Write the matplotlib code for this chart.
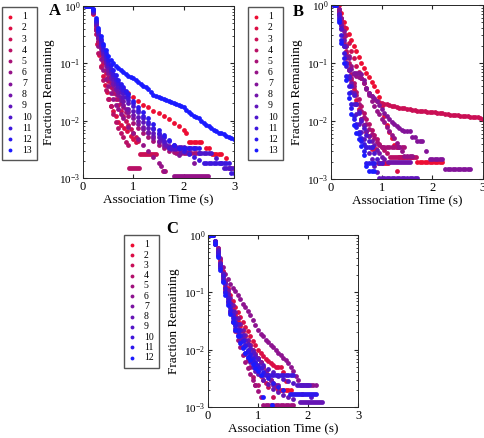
import matplotlib
matplotlib.use('Agg')
import matplotlib.pyplot as plt
import numpy as np

plt.rcParams['font.family'] = ['Liberation Serif', 'DejaVu Serif']
plt.rcParams['mathtext.fontset'] = 'custom'
plt.rcParams['mathtext.rm'] = 'Liberation Serif'
plt.rcParams['mathtext.it'] = 'Liberation Serif:italic'

# ---- Panel A: (time s, fraction remaining) per trace ----
A01 = [(0.05, 1), (0.1, 1), (0.15, 1), (0.2, 0.78), (0.25, 0.45), (0.3, 0.28), (0.35, 0.19), (0.4, 0.13),
       (0.45, 0.1), (0.5, 0.08), (0.55, 0.066), (0.6, 0.056), (0.7, 0.044), (0.8, 0.036), (0.9, 0.03),
       (1.0, 0.026), (1.1, 0.022), (1.2, 0.019), (1.3, 0.017), (1.4, 0.015), (1.5, 0.0135), (1.6, 0.012),
       (1.7, 0.0105), (1.8, 0.0092), (1.9, 0.008), (2.0, 0.0068), (2.05, 0.006), (2.1, 0.0042), (2.15, 0.0042),
       (2.2, 0.0042), (2.25, 0.0042), (2.3, 0.0042), (2.35, 0.0042), (2.45, 0.0034), (2.5, 0.0034),
       (2.56, 0.0026), (2.6, 0.0026), (2.65, 0.0026), (2.7, 0.0026), (2.75, 0.0026), (2.85, 0.0022),
       (2.9, 0.0015), (2.95, 0.0015), (3.0, 0.0015)]
A02 = [(0.05, 1), (0.1, 1), (0.15, 1), (0.2, 0.72), (0.25, 0.38), (0.28, 0.22), (0.32, 0.14), (0.36, 0.09),
       (0.4, 0.06), (0.44, 0.042), (0.48, 0.031), (0.52, 0.024), (0.56, 0.018), (0.6, 0.015), (0.65, 0.012),
       (0.7, 0.0095), (0.76, 0.0085), (0.82, 0.0075), (0.88, 0.0065), (0.95, 0.0055), (1.0, 0.0048), (1.05, 0.0042)]
A03 = [(0.05, 1), (0.1, 1), (0.2, 0.8), (0.25, 0.4), (0.3, 0.24), (0.35, 0.15), (0.4, 0.1), (0.45, 0.068),
       (0.5, 0.05), (0.55, 0.038), (0.6, 0.03), (0.65, 0.024), (0.7, 0.019), (0.75, 0.015), (0.8, 0.012),
       (0.85, 0.01), (0.9, 0.0085), (0.95, 0.0072), (1.0, 0.0062), (1.05, 0.0052), (1.1, 0.0044),
       (1.14, 0.0026), (1.18, 0.0026), (1.22, 0.0026), (1.26, 0.0026), (1.3, 0.0026), (1.34, 0.0026),
       (1.38, 0.0026), (1.42, 0.0026), (1.46, 0.0026)]
A04 = [(0.05, 1), (0.1, 1), (0.2, 0.75), (0.25, 0.33), (0.3, 0.15), (0.35, 0.085), (0.4, 0.052), (0.45, 0.034),
       (0.5, 0.024), (0.55, 0.018), (0.6, 0.013), (0.65, 0.0095), (0.7, 0.0075), (0.75, 0.0062), (0.8, 0.0052),
       (0.85, 0.0042), (0.9, 0.0038), (0.92, 0.0015), (0.96, 0.0015), (1.0, 0.0015), (1.04, 0.0015),
       (1.08, 0.0015), (1.12, 0.0015), (1.58, 0.0013), (1.62, 0.0013)]
A05 = [(0.05, 1), (0.1, 1), (0.2, 0.82), (0.25, 0.42), (0.3, 0.25), (0.35, 0.16), (0.4, 0.11), (0.45, 0.078),
       (0.5, 0.058), (0.55, 0.045), (0.6, 0.036), (0.65, 0.029), (0.7, 0.024), (0.75, 0.02), (0.8, 0.017),
       (0.85, 0.014), (0.9, 0.012), (1.0, 0.0092), (1.1, 0.0075), (1.2, 0.0062), (1.3, 0.0052), (1.4, 0.0044),
       (1.5, 0.0038), (1.6, 0.0034), (1.7, 0.003), (1.8, 0.0028), (1.85, 0.0027), (1.9, 0.0027), (1.95, 0.0027),
       (2.0, 0.0027), (2.05, 0.0027), (2.1, 0.0027), (2.15, 0.0027), (2.2, 0.0027), (2.25, 0.0027), (2.3, 0.0027)]
A06 = [(0.05, 1), (0.1, 1), (0.2, 0.78), (0.25, 0.38), (0.3, 0.2), (0.35, 0.12), (0.4, 0.078), (0.45, 0.054),
       (0.5, 0.04), (0.55, 0.03), (0.6, 0.024), (0.65, 0.019), (0.7, 0.016), (0.75, 0.013), (0.8, 0.011),
       (0.9, 0.0078), (1.0, 0.006), (1.1, 0.0047), (1.2, 0.0038), (1.3, 0.003), (1.4, 0.0023), (1.5, 0.0018),
       (1.55, 0.0016), (1.6, 0.0013), (1.8, 0.0011), (1.84, 0.0011), (1.88, 0.0011), (1.92, 0.0011),
       (1.96, 0.0011), (2.0, 0.0011), (2.04, 0.0011), (2.08, 0.0011), (2.12, 0.0011), (2.16, 0.0011),
       (2.2, 0.0011), (2.24, 0.0011), (2.28, 0.0011), (2.32, 0.0011), (2.36, 0.0011), (2.4, 0.0011),
       (2.44, 0.0011), (2.48, 0.0011)]
A07 = [(0.05, 1), (0.1, 1), (0.2, 0.85), (0.25, 0.48), (0.3, 0.28), (0.35, 0.18), (0.4, 0.125), (0.45, 0.09),
       (0.5, 0.068), (0.55, 0.053), (0.6, 0.042), (0.65, 0.034), (0.7, 0.028), (0.75, 0.023), (0.8, 0.019),
       (0.85, 0.016), (0.9, 0.014), (1.0, 0.011), (1.1, 0.0088), (1.2, 0.0072), (1.3, 0.006), (1.4, 0.005),
       (1.5, 0.0042), (1.6, 0.0036), (1.65, 0.0036), (1.7, 0.0036), (1.9, 0.0025), (2.2, 0.0018)]
A08 = [(0.05, 1), (0.1, 1), (0.2, 0.8), (0.25, 0.46), (0.3, 0.29), (0.35, 0.2), (0.4, 0.14), (0.45, 0.1),
       (0.5, 0.075), (0.55, 0.058), (0.6, 0.046), (0.65, 0.037), (0.7, 0.031), (0.75, 0.026), (0.8, 0.022),
       (0.9, 0.016), (1.0, 0.0125), (1.1, 0.0098), (1.2, 0.0078), (1.3, 0.0064), (1.4, 0.0053), (1.5, 0.0045),
       (1.6, 0.0039), (1.7, 0.0034), (1.75, 0.0032), (1.8, 0.0032), (1.85, 0.0032), (1.9, 0.0032),
       (1.95, 0.0028), (2.0, 0.0028), (2.05, 0.0028), (2.1, 0.0028)]
A09 = [(0.05, 1), (0.1, 1), (0.15, 1), (0.2, 0.8), (0.25, 0.5), (0.3, 0.32), (0.35, 0.21), (0.4, 0.15),
       (0.45, 0.11), (0.5, 0.085), (0.55, 0.067), (0.6, 0.054), (0.65, 0.044), (0.7, 0.037), (0.75, 0.031),
       (0.8, 0.026), (0.9, 0.02), (1.0, 0.015), (1.1, 0.0118), (1.2, 0.0094), (1.3, 0.0076), (1.4, 0.0062),
       (1.5, 0.0052), (1.55, 0.0047), (1.6, 0.0042), (1.65, 0.0038), (1.7, 0.0035), (1.75, 0.0035),
       (1.8, 0.0035), (1.85, 0.0035), (1.9, 0.0035), (1.95, 0.0035), (2.0, 0.0035)]
A10 = [(0.05, 1), (0.1, 1), (0.2, 0.85), (0.25, 0.52), (0.3, 0.34), (0.35, 0.23), (0.4, 0.165), (0.45, 0.12),
       (0.5, 0.092), (0.55, 0.073), (0.6, 0.059), (0.65, 0.049), (0.7, 0.041), (0.75, 0.035), (0.8, 0.03),
       (0.85, 0.026), (0.9, 0.023), (1.0, 0.018), (1.1, 0.014), (1.2, 0.011), (1.3, 0.0088), (1.4, 0.0071),
       (1.5, 0.0058), (1.55, 0.0051), (1.6, 0.0044), (1.7, 0.0034), (1.75, 0.0034), (1.8, 0.0034),
       (1.85, 0.0034), (1.9, 0.0034), (1.95, 0.0034), (2.0, 0.0034), (2.05, 0.0034), (2.1, 0.0034),
       (2.15, 0.0034), (2.2, 0.0034), (2.25, 0.0034), (2.3, 0.0027), (2.35, 0.0027), (2.4, 0.0027),
       (2.45, 0.0027), (2.5, 0.0027), (2.55, 0.0027), (2.65, 0.0022), (2.75, 0.0018), (2.8, 0.0015),
       (2.85, 0.0015), (2.9, 0.0015), (2.95, 0.0015), (3.0, 0.0015)]
A11 = [(0.05, 1), (0.1, 1), (0.15, 1), (0.2, 0.88), (0.25, 0.55), (0.3, 0.36), (0.35, 0.25), (0.4, 0.18),
       (0.45, 0.135), (0.5, 0.1), (0.55, 0.08), (0.6, 0.065), (0.65, 0.054), (0.7, 0.045), (0.75, 0.039),
       (0.8, 0.034), (0.85, 0.03), (0.9, 0.026), (1.0, 0.02), (1.1, 0.0155), (1.2, 0.012), (1.3, 0.0095),
       (1.4, 0.0076), (1.5, 0.0062), (1.6, 0.0052), (1.7, 0.0044), (1.8, 0.0038), (1.9, 0.0033),
       (2.0, 0.0029), (2.1, 0.0026), (2.2, 0.0023), (2.3, 0.0021), (2.4, 0.0018), (2.45, 0.0018),
       (2.5, 0.0018), (2.55, 0.0018), (2.6, 0.0018), (2.65, 0.0018), (2.7, 0.0018), (2.75, 0.0018),
       (2.8, 0.0018), (2.85, 0.0018), (2.9, 0.0018), (2.95, 0.0012), (3.0, 0.0012)]
A12 = [(0.05, 1), (0.1, 1), (0.15, 1), (0.2, 0.85), (0.25, 0.58), (0.3, 0.38), (0.35, 0.27), (0.4, 0.2),
       (0.45, 0.15), (0.5, 0.115), (0.55, 0.092), (0.6, 0.075), (0.65, 0.062), (0.7, 0.052), (0.75, 0.044),
       (0.8, 0.038), (0.85, 0.033), (0.9, 0.029), (1.0, 0.022), (1.1, 0.0175), (1.2, 0.014), (1.3, 0.011),
       (1.4, 0.0088), (1.5, 0.007), (1.6, 0.0056), (1.7, 0.0046), (1.8, 0.0038), (1.9, 0.0034),
       (2.0, 0.0034), (2.1, 0.0034), (2.2, 0.0034), (2.3, 0.0034)]
A13 = [(0.05, 1), (0.1, 1), (0.15, 1), (0.2, 0.9), (0.25, 0.62), (0.3, 0.42), (0.35, 0.3), (0.4, 0.22),
       (0.45, 0.17), (0.5, 0.135), (0.55, 0.115), (0.6, 0.1), (0.65, 0.09), (0.7, 0.082), (0.75, 0.075),
       (0.8, 0.07), (0.85, 0.065), (0.9, 0.061), (0.95, 0.058), (1.0, 0.055), (1.05, 0.051), (1.1, 0.047),
       (1.15, 0.044), (1.2, 0.041), (1.25, 0.038), (1.3, 0.035), (1.35, 0.031), (1.4, 0.028), (1.45, 0.027),
       (1.5, 0.026), (1.55, 0.025), (1.6, 0.024), (1.65, 0.023), (1.7, 0.022), (1.75, 0.021), (1.8, 0.02),
       (1.85, 0.0195), (1.9, 0.019), (1.95, 0.018), (2.0, 0.017), (2.05, 0.0155), (2.1, 0.014), (2.15, 0.013),
       (2.2, 0.012), (2.25, 0.0115), (2.3, 0.011), (2.35, 0.0098), (2.4, 0.009), (2.45, 0.0085), (2.5, 0.008),
       (2.55, 0.0075), (2.6, 0.007), (2.65, 0.0066), (2.7, 0.0062), (2.75, 0.006), (2.8, 0.0058),
       (2.85, 0.0055), (2.9, 0.0052), (2.95, 0.005), (3.0, 0.0047)]

# ---- Panel B ----
B01 = [(0.05, 1), (0.1, 1), (0.15, 1), (0.2, 0.72), (0.25, 0.5), (0.3, 0.4), (0.35, 0.32), (0.4, 0.25),
       (0.45, 0.2), (0.5, 0.16), (0.55, 0.125), (0.6, 0.1), (0.65, 0.083), (0.7, 0.068), (0.75, 0.057),
       (0.8, 0.047), (0.85, 0.04), (0.9, 0.033), (0.95, 0.026), (1.0, 0.018), (1.05, 0.012), (1.1, 0.0085),
       (1.15, 0.0065), (1.2, 0.005), (1.25, 0.0038), (1.3, 0.0035), (1.35, 0.0024), (1.4, 0.0024),
       (1.45, 0.0024), (1.5, 0.0024), (1.55, 0.0024), (1.6, 0.0024), (1.7, 0.002), (1.75, 0.002),
       (1.8, 0.002), (1.85, 0.002), (1.9, 0.002), (1.95, 0.002), (2.0, 0.002), (2.05, 0.002), (2.1, 0.002),
       (2.15, 0.002), (2.2, 0.002)]
B02 = [(0.05, 1), (0.1, 1), (0.15, 0.8), (0.2, 0.55), (0.25, 0.3), (0.3, 0.15), (0.35, 0.08), (0.4, 0.05),
       (0.45, 0.035), (0.5, 0.023), (0.55, 0.016), (0.6, 0.011), (0.65, 0.0085), (0.7, 0.0065), (0.75, 0.0055),
       (0.8, 0.0033), (0.84, 0.0033), (0.88, 0.0033), (0.92, 0.0019), (0.96, 0.0019), (1.0, 0.0019),
       (1.04, 0.0019), (1.08, 0.0019), (1.12, 0.0019), (1.3, 0.0014)]
B03 = [(0.05, 1), (0.1, 1), (0.15, 0.85), (0.2, 0.6), (0.25, 0.42), (0.3, 0.3), (0.35, 0.22), (0.4, 0.16),
       (0.45, 0.12), (0.5, 0.09), (0.55, 0.07), (0.6, 0.055), (0.65, 0.045), (0.7, 0.037), (0.75, 0.031),
       (0.8, 0.027), (0.85, 0.024), (0.9, 0.022), (0.95, 0.021), (1.0, 0.0205), (1.05, 0.02), (1.1, 0.0195),
       (1.15, 0.019), (1.2, 0.0185), (1.25, 0.018), (1.3, 0.0175), (1.35, 0.017), (1.4, 0.0167),
       (1.45, 0.0165), (1.5, 0.016), (1.55, 0.0158), (1.6, 0.0155), (1.65, 0.0152), (1.7, 0.015),
       (1.75, 0.0148), (1.8, 0.0147), (1.85, 0.0146), (1.9, 0.0145), (1.95, 0.0143), (2.0, 0.0142),
       (2.05, 0.0141), (2.1, 0.014), (2.15, 0.0137), (2.2, 0.0135), (2.25, 0.0132), (2.3, 0.013),
       (2.35, 0.0129), (2.4, 0.0128), (2.45, 0.0126), (2.5, 0.0125), (2.55, 0.0124), (2.6, 0.0123),
       (2.65, 0.0122), (2.7, 0.012), (2.75, 0.0119), (2.8, 0.0118), (2.85, 0.0117), (2.9, 0.0115),
       (2.95, 0.0113), (3.0, 0.011)]
B04 = [(0.05, 1), (0.1, 1), (0.15, 0.75), (0.2, 0.5), (0.25, 0.28), (0.3, 0.16), (0.35, 0.1), (0.4, 0.065),
       (0.45, 0.045), (0.5, 0.032), (0.55, 0.024), (0.6, 0.018), (0.65, 0.014), (0.7, 0.011), (0.75, 0.0088),
       (0.8, 0.007), (0.85, 0.0058), (0.9, 0.0048), (0.95, 0.004), (1.0, 0.0035), (1.05, 0.0032),
       (1.1, 0.0028), (1.16, 0.0024), (1.2, 0.0024), (1.24, 0.0024), (1.28, 0.0024), (1.32, 0.0024),
       (1.36, 0.0024), (1.4, 0.0024), (1.44, 0.0024), (1.48, 0.0024), (1.52, 0.0024), (1.56, 0.0024),
       (1.6, 0.0024), (1.64, 0.0024), (1.68, 0.0024)]
B05 = [(0.05, 1), (0.1, 1), (0.15, 0.7), (0.2, 0.45), (0.25, 0.22), (0.3, 0.12), (0.35, 0.075), (0.4, 0.055),
       (0.45, 0.04), (0.5, 0.028), (0.55, 0.02), (0.6, 0.015), (0.65, 0.0115), (0.7, 0.009), (0.75, 0.0072),
       (0.8, 0.006), (0.85, 0.005), (0.9, 0.0043), (0.95, 0.0038), (1.0, 0.0035), (1.05, 0.0035),
       (1.1, 0.0035), (1.15, 0.0035), (1.2, 0.0035), (1.25, 0.0035), (1.3, 0.0035), (1.35, 0.0035),
       (1.4, 0.0035), (1.45, 0.0035)]
B06 = [(0.05, 1), (0.1, 1), (0.15, 0.8), (0.2, 0.5), (0.25, 0.3), (0.3, 0.2), (0.35, 0.13), (0.4, 0.09),
       (0.45, 0.065), (0.5, 0.06), (0.55, 0.058), (0.6, 0.055), (0.65, 0.045), (0.7, 0.035), (0.75, 0.028),
       (0.8, 0.022), (0.85, 0.018), (0.9, 0.015), (0.95, 0.013), (1.0, 0.011), (1.05, 0.0095), (1.1, 0.008),
       (1.15, 0.0068), (1.2, 0.0058), (1.25, 0.005), (1.3, 0.0042), (1.35, 0.0035), (1.4, 0.003),
       (1.45, 0.0025), (1.5, 0.0025), (1.55, 0.0025), (1.6, 0.0025)]
B07 = [(0.05, 1), (0.1, 1), (0.15, 0.85), (0.2, 0.6), (0.25, 0.35), (0.3, 0.2), (0.35, 0.12), (0.4, 0.08),
       (0.45, 0.066), (0.5, 0.068), (0.55, 0.068), (0.6, 0.065), (0.65, 0.05), (0.7, 0.037), (0.75, 0.03),
       (0.8, 0.027), (0.85, 0.025), (0.9, 0.022), (0.95, 0.019), (1.0, 0.016), (1.05, 0.014), (1.1, 0.012),
       (1.15, 0.011), (1.2, 0.0098), (1.25, 0.009), (1.3, 0.0082), (1.35, 0.0075), (1.4, 0.007),
       (1.45, 0.0066), (1.5, 0.0066), (1.55, 0.0066), (1.6, 0.0053), (1.65, 0.0053), (1.7, 0.0045),
       (1.75, 0.0045), (1.8, 0.0045), (1.87, 0.003), (1.95, 0.0022), (2.0, 0.0022), (2.05, 0.0022),
       (2.1, 0.0022), (2.15, 0.0022), (2.2, 0.0022), (2.25, 0.0015), (2.3, 0.0015), (2.35, 0.0015),
       (2.4, 0.0015), (2.45, 0.0015), (2.5, 0.0015), (2.55, 0.0015), (2.6, 0.0015), (2.65, 0.0015),
       (2.7, 0.0015), (2.75, 0.0015)]
B08 = [(0.05, 1), (0.1, 1), (0.15, 0.7), (0.2, 0.45), (0.25, 0.25), (0.3, 0.13), (0.35, 0.075), (0.4, 0.045),
       (0.45, 0.03), (0.5, 0.02), (0.55, 0.015), (0.6, 0.011), (0.65, 0.0085), (0.7, 0.0068), (0.75, 0.0055),
       (0.8, 0.0045), (0.85, 0.0038), (0.9, 0.0032), (0.95, 0.0028), (1.0, 0.0024), (1.05, 0.0022),
       (1.12, 0.002), (1.16, 0.002), (1.2, 0.002), (1.24, 0.002), (1.28, 0.002), (1.32, 0.002), (1.36, 0.002),
       (1.4, 0.002), (1.44, 0.002), (1.48, 0.002), (1.52, 0.002), (1.56, 0.002)]
B09 = [(0.05, 1), (0.1, 1), (0.15, 0.65), (0.2, 0.38), (0.25, 0.2), (0.3, 0.1), (0.35, 0.055), (0.4, 0.032),
       (0.45, 0.02), (0.5, 0.013), (0.55, 0.009), (0.6, 0.0065), (0.65, 0.0048), (0.7, 0.0036), (0.75, 0.0028),
       (0.8, 0.0022), (0.85, 0.0017), (0.9, 0.0013), (0.95, 0.00105), (1.0, 0.00105), (1.05, 0.00105),
       (1.1, 0.00105), (1.15, 0.00105), (1.2, 0.00105), (1.25, 0.00105), (1.3, 0.00105), (1.35, 0.00105),
       (1.4, 0.00105), (1.45, 0.00105), (1.5, 0.00105), (1.55, 0.00105), (1.6, 0.00105), (1.65, 0.00105),
       (1.7, 0.00105)]
B10 = [(0.05, 1), (0.1, 1), (0.15, 0.7), (0.2, 0.4), (0.25, 0.2), (0.3, 0.1), (0.35, 0.06), (0.4, 0.04),
       (0.45, 0.028), (0.5, 0.02), (0.55, 0.014), (0.6, 0.01), (0.65, 0.0075), (0.7, 0.0058), (0.75, 0.0045),
       (0.8, 0.0036), (0.85, 0.0028), (0.9, 0.0022), (0.95, 0.0019), (1.0, 0.0019)]
B11 = [(0.05, 1), (0.1, 1), (0.15, 0.6), (0.2, 0.3), (0.25, 0.15), (0.3, 0.09), (0.35, 0.04), (0.4, 0.02),
       (0.45, 0.012), (0.5, 0.009), (0.55, 0.0065), (0.6, 0.005), (0.65, 0.004), (0.7, 0.0036), (0.75, 0.0036),
       (0.8, 0.0036)]
B12 = [(0.05, 1), (0.1, 1), (0.15, 0.55), (0.2, 0.25), (0.25, 0.12), (0.3, 0.06), (0.35, 0.03), (0.4, 0.017),
       (0.45, 0.011), (0.5, 0.008), (0.55, 0.006), (0.6, 0.0045), (0.65, 0.003), (0.7, 0.0019), (0.75, 0.0019),
       (0.8, 0.0019), (0.85, 0.0019)]
B13 = [(0.05, 1), (0.1, 1), (0.15, 0.5), (0.2, 0.22), (0.25, 0.1), (0.3, 0.05), (0.35, 0.025), (0.4, 0.013),
       (0.45, 0.0085), (0.5, 0.0062), (0.55, 0.0048), (0.6, 0.0037), (0.65, 0.0026), (0.7, 0.0017),
       (0.75, 0.0014), (0.8, 0.0014), (0.85, 0.0014)]

# ---- Panel C ----
C01 = [(0.05, 1), (0.1, 1), (0.15, 0.75), (0.2, 0.5), (0.25, 0.3), (0.3, 0.2), (0.35, 0.13), (0.4, 0.09),
       (0.45, 0.065), (0.5, 0.05), (0.55, 0.04), (0.6, 0.032), (0.65, 0.026), (0.7, 0.021), (0.75, 0.017),
       (0.8, 0.014), (0.85, 0.012), (0.9, 0.01), (0.95, 0.0085), (1.0, 0.0072), (1.05, 0.006), (1.1, 0.005),
       (1.15, 0.0042), (1.2, 0.0035), (1.25, 0.003), (1.3, 0.0026), (1.35, 0.0022), (1.4, 0.002),
       (1.45, 0.002), (1.5, 0.002), (1.55, 0.002), (1.6, 0.002), (1.65, 0.002), (1.88, 0.0017)]
C02 = [(0.05, 1), (0.1, 1), (0.15, 0.8), (0.2, 0.55), (0.25, 0.35), (0.3, 0.23), (0.35, 0.16), (0.4, 0.12),
       (0.45, 0.09), (0.5, 0.07), (0.55, 0.055), (0.6, 0.045), (0.65, 0.037), (0.7, 0.03), (0.75, 0.025),
       (0.8, 0.021), (0.85, 0.017), (0.9, 0.014), (0.95, 0.012), (1.0, 0.01), (1.05, 0.0088), (1.1, 0.0078),
       (1.15, 0.007), (1.2, 0.0063), (1.25, 0.0058), (1.3, 0.0054), (1.35, 0.005), (1.4, 0.005),
       (1.45, 0.005), (1.5, 0.004), (1.55, 0.0028)]
C03 = [(0.05, 1), (0.1, 1), (0.2, 0.6), (0.25, 0.38), (0.3, 0.24), (0.35, 0.15), (0.4, 0.1), (0.45, 0.07),
       (0.5, 0.05), (0.55, 0.037), (0.6, 0.028), (0.65, 0.021), (0.7, 0.016), (0.75, 0.012), (0.8, 0.0095),
       (0.85, 0.0075), (0.9, 0.006), (0.95, 0.005), (1.0, 0.0042), (1.05, 0.0035), (1.1, 0.003),
       (1.15, 0.0026), (1.2, 0.0022), (1.3, 0.0015)]
C04 = [(0.05, 1), (0.1, 1), (0.15, 0.7), (0.2, 0.45), (0.25, 0.3), (0.3, 0.19), (0.35, 0.12), (0.4, 0.08),
       (0.45, 0.055), (0.5, 0.038), (0.55, 0.027), (0.6, 0.02), (0.65, 0.015), (0.7, 0.011), (0.75, 0.0085),
       (0.8, 0.0065), (0.85, 0.005), (0.9, 0.0033), (0.95, 0.0024), (1.0, 0.0024)]
C05 = [(0.05, 1), (0.1, 1), (0.15, 0.75), (0.2, 0.5), (0.25, 0.3), (0.3, 0.18), (0.35, 0.11), (0.4, 0.07),
       (0.45, 0.045), (0.5, 0.03), (0.55, 0.021), (0.6, 0.015), (0.65, 0.011), (0.7, 0.0082), (0.75, 0.0062),
       (0.8, 0.0048), (0.85, 0.0038), (0.9, 0.003), (0.95, 0.0024), (1.0, 0.0019), (1.05, 0.0015),
       (1.1, 0.0011), (1.15, 0.0011), (1.2, 0.0011), (1.25, 0.0011), (1.3, 0.0011), (1.35, 0.0011),
       (1.4, 0.0011), (1.45, 0.0011), (1.5, 0.0011), (1.55, 0.0011), (1.6, 0.0011), (1.65, 0.0011),
       (1.7, 0.0011)]
C06 = [(0.05, 1), (0.1, 1), (0.15, 0.8), (0.2, 0.6), (0.25, 0.4), (0.3, 0.28), (0.35, 0.21), (0.4, 0.17),
       (0.45, 0.14), (0.5, 0.12), (0.55, 0.105), (0.6, 0.09), (0.65, 0.075), (0.7, 0.063), (0.75, 0.055),
       (0.8, 0.047), (0.85, 0.04), (0.9, 0.033), (0.95, 0.027), (1.0, 0.022), (1.05, 0.019), (1.1, 0.017),
       (1.15, 0.015), (1.2, 0.0135), (1.25, 0.012), (1.3, 0.011), (1.35, 0.0098), (1.4, 0.0088),
       (1.45, 0.008), (1.5, 0.0072), (1.55, 0.0065), (1.6, 0.0058), (1.65, 0.005), (1.7, 0.0042),
       (1.75, 0.0035), (1.8, 0.003), (1.85, 0.0024), (1.9, 0.0024), (1.95, 0.0024), (2.0, 0.0024),
       (2.05, 0.0024), (2.1, 0.0024), (2.15, 0.0024)]
C07 = [(0.05, 1), (0.1, 1), (0.15, 0.75), (0.2, 0.5), (0.25, 0.32), (0.3, 0.22), (0.35, 0.15), (0.4, 0.11),
       (0.45, 0.08), (0.5, 0.06), (0.55, 0.046), (0.6, 0.036), (0.65, 0.028), (0.7, 0.022), (0.75, 0.018),
       (0.8, 0.015), (0.85, 0.012), (0.9, 0.01), (0.95, 0.0085), (1.0, 0.0072), (1.05, 0.006), (1.1, 0.005),
       (1.15, 0.0042), (1.2, 0.0036), (1.25, 0.003), (1.3, 0.0024), (1.35, 0.0024), (1.4, 0.0024)]
C08 = [(0.05, 1), (0.1, 1), (0.15, 0.7), (0.2, 0.45), (0.25, 0.28), (0.3, 0.17), (0.35, 0.1), (0.4, 0.065),
       (0.45, 0.045), (0.5, 0.032), (0.55, 0.024), (0.6, 0.018), (0.65, 0.014), (0.7, 0.011), (0.75, 0.0088),
       (0.8, 0.0072), (0.85, 0.006), (0.9, 0.005), (0.95, 0.0043), (1.0, 0.0038), (1.1, 0.003),
       (1.2, 0.0025), (1.3, 0.0021), (1.4, 0.0018), (1.5, 0.0016), (1.6, 0.0015), (1.7, 0.0014),
       (1.84, 0.0012), (1.88, 0.0012), (1.92, 0.0012), (1.96, 0.0012), (2.0, 0.0012), (2.04, 0.0012),
       (2.08, 0.0012), (2.12, 0.0012), (2.16, 0.0012), (2.2, 0.0012), (2.24, 0.0012), (2.28, 0.0012)]
C09 = [(0.05, 1), (0.1, 1), (0.15, 0.8), (0.2, 0.55), (0.25, 0.33), (0.3, 0.21), (0.35, 0.14), (0.4, 0.095),
       (0.45, 0.066), (0.5, 0.048), (0.55, 0.036), (0.6, 0.028), (0.65, 0.022), (0.7, 0.018), (0.75, 0.015),
       (0.8, 0.0125), (0.85, 0.0105), (0.9, 0.009), (0.95, 0.0078), (1.0, 0.0068), (1.1, 0.0055),
       (1.2, 0.0046), (1.3, 0.004), (1.4, 0.0035), (1.5, 0.0031), (1.6, 0.0028), (1.7, 0.0026),
       (1.78, 0.0024), (1.82, 0.0024), (1.86, 0.0024), (1.9, 0.0024), (1.94, 0.0024), (1.98, 0.0024),
       (2.02, 0.0024), (2.06, 0.0015)]
C10 = [(0.05, 1), (0.1, 1), (0.15, 0.8), (0.2, 0.5), (0.25, 0.3), (0.3, 0.19), (0.35, 0.12), (0.4, 0.08),
       (0.45, 0.056), (0.5, 0.04), (0.55, 0.03), (0.6, 0.023), (0.65, 0.018), (0.7, 0.0145), (0.75, 0.012),
       (0.8, 0.01), (0.85, 0.0085), (0.9, 0.0072), (0.95, 0.0062), (1.0, 0.0054), (1.05, 0.0047),
       (1.1, 0.0036), (1.15, 0.0036), (1.2, 0.0036), (1.25, 0.0036), (1.3, 0.0036), (1.35, 0.0036),
       (1.4, 0.0036), (1.45, 0.0036), (1.5, 0.0036), (1.55, 0.0036), (1.6, 0.0036), (1.65, 0.0036),
       (1.7, 0.0036)]
C11 = [(0.05, 1), (0.1, 1), (0.15, 0.75), (0.2, 0.45), (0.25, 0.27), (0.3, 0.16), (0.35, 0.1), (0.4, 0.07),
       (0.45, 0.05), (0.5, 0.036), (0.55, 0.027), (0.6, 0.021), (0.65, 0.017), (0.7, 0.014), (0.75, 0.0115),
       (0.8, 0.0095), (0.85, 0.008), (0.9, 0.0068), (0.95, 0.0058), (1.0, 0.005), (1.1, 0.004),
       (1.2, 0.0032), (1.3, 0.0026), (1.4, 0.0022), (1.5, 0.002), (1.64, 0.0017), (1.68, 0.0017),
       (1.72, 0.0017), (1.76, 0.0017), (1.8, 0.0017), (1.84, 0.0017), (1.88, 0.0017), (1.92, 0.0017),
       (1.96, 0.0017), (2.0, 0.0017), (2.04, 0.0017), (2.08, 0.0017), (2.12, 0.0017), (2.16, 0.0017)]
C12 = [(0.05, 1), (0.1, 1), (0.15, 0.7), (0.2, 0.42), (0.25, 0.25), (0.3, 0.15), (0.35, 0.09), (0.4, 0.06),
       (0.45, 0.042), (0.5, 0.03), (0.55, 0.022), (0.6, 0.017), (0.65, 0.013), (0.7, 0.0105), (0.75, 0.0088),
       (0.8, 0.0075), (0.85, 0.0065), (0.9, 0.0056), (0.95, 0.0048), (1.0, 0.0042), (1.05, 0.0036),
       (1.1, 0.0015), (1.28, 0.0011)]

panels = {
    'A': [A01, A02, A03, A04, A05, A06, A07, A08, A09, A10, A11, A12, A13],
    'B': [B01, B02, B03, B04, B05, B06, B07, B08, B09, B10, B11, B12, B13],
    'C': [C01, C02, C03, C04, C05, C06, C07, C08, C09, C10, C11, C12],
}

W, H = 485, 438
# axes boxes in pixels: left, top, right, bottom
ax_px = {'A': (83, 6, 234, 178), 'B': (331, 5, 483, 179), 'C': (208, 235, 358, 407)}
leg_px = {'A': (2, 7), 'B': (248, 7), 'C': (124, 235)}
leg_space = {'A': 0.22, 'B': 0.22, 'C': 0.13}
letter_px = {'A': (49, 3), 'B': (293, 4), 'C': (166, 221)}

red = np.array([0.93, 0.05, 0.20])
blue = np.array([0.10, 0.10, 1.00])

fig = plt.figure(figsize=(W / 100, H / 100), dpi=100)

for name, traces in panels.items():
    l, t, r, b = ax_px[name]
    ax = fig.add_axes([l / W, 1 - b / H, (r - l) / W, (b - t) / H])
    n = len(traces)
    for i, tr in enumerate(traces):
        frac = i / (n - 1)
        col = (1 - frac) * red + frac * blue
        xs = [p[0] for p in tr]
        ys = [p[1] for p in tr]
        ax.scatter(xs, ys, s=12, color=col, linewidths=0, label=str(i + 1), zorder=2 + i * 0.01)
    ax.set_yscale('log')
    ax.set_xlim(0, 3)
    ax.set_ylim(1e-3, 1)
    ax.set_xticks([0, 1, 2, 3])
    ax.tick_params(which='both', direction='in', top=True, right=True, pad=2,
                   colors='#262626', labelcolor='black')
    ax.tick_params(axis='x', labelsize=9)
    ax.tick_params(axis='y', labelsize=8)
    ax.tick_params(which='major', length=3)
    ax.tick_params(which='minor', length=1.5)
    for sp in ax.spines.values():
        sp.set_color('#262626')
        sp.set_linewidth(0.7)
    ax.set_xlabel('Association Time (s)', fontsize=9.5, labelpad=1)
    ax.set_ylabel('Fraction Remaining', fontsize=9.5, labelpad=3)

    lx, ly = leg_px[name]
    leg = ax.legend(loc='upper left', bbox_to_anchor=(lx / W, 1 - ly / H), bbox_transform=fig.transFigure,
                    borderaxespad=0, fontsize=7, handlelength=0.6, handletextpad=0.9,
                    labelspacing=leg_space[name], borderpad=0.55, fancybox=False, edgecolor='#555555',
                    framealpha=1, markerscale=0.8)
    leg.get_frame().set_linewidth(1.0)

    fx, fy = letter_px[name]
    fig.text(fx / W, 1 - fy / H, name, fontsize=12, fontweight='bold', va='top', ha='left')

fig.savefig('out.png', dpi=100)
